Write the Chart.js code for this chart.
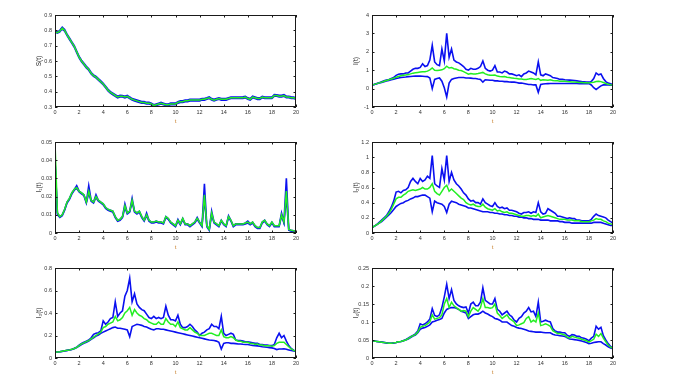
<!DOCTYPE html>
<html><head><meta charset="utf-8">
<script src="https://cdn.jsdelivr.net/npm/chart.js@4"></script>
<style>
html,body{margin:0;padding:0;background:#fff;}
#wrap{position:relative;width:675px;height:387px;overflow:hidden;background:#fff;}
canvas{position:absolute;}
</style></head><body><div id="wrap"></div>
<script>
const T = [0,0.2,0.4,0.6,0.8,1,1.2,1.4,1.6,1.8,
2,2.2,2.4,2.6,2.8,3,3.2,3.4,3.6,3.8,
4,4.2,4.4,4.6,4.8,5,5.2,5.4,5.6,5.8,
6,6.2,6.4,6.6,6.8,7,7.2,7.4,7.6,7.8,
8,8.2,8.4,8.6,8.8,9,9.2,9.4,9.6,9.8,
10,10.2,10.4,10.6,10.8,11,11.2,11.4,11.6,11.8,
12,12.2,12.4,12.6,12.8,13,13.2,13.4,13.6,13.8,
14,14.2,14.4,14.6,14.8,15,15.2,15.4,15.6,15.8,
16,16.2,16.4,16.6,16.8,17,17.2,17.4,17.6,17.8,
18,18.2,18.4,18.6,18.8,19,19.2,19.4,19.6,19.8,
20];
const X_TICKS = [0,2,4,6,8,10,12,14,16,18,20];

// S(t)
const S_mean = [0.790,0.785,0.795,0.815,0.800,0.770,0.745,0.720,0.695,0.660,
 0.625,0.600,0.580,0.560,0.545,0.520,0.505,0.495,0.480,0.465,
 0.450,0.430,0.410,0.395,0.385,0.375,0.365,0.370,0.370,0.365,
 0.370,0.360,0.350,0.345,0.340,0.335,0.330,0.330,0.325,0.325,
 0.320,0.310,0.315,0.320,0.325,0.320,0.315,0.315,0.320,0.320,
 0.320,0.330,0.335,0.335,0.340,0.340,0.345,0.345,0.345,0.345,
 0.345,0.350,0.350,0.355,0.360,0.350,0.345,0.350,0.355,0.350,
 0.350,0.350,0.355,0.360,0.360,0.360,0.360,0.360,0.360,0.365,
 0.355,0.350,0.365,0.360,0.355,0.355,0.365,0.360,0.360,0.360,
 0.360,0.375,0.375,0.370,0.370,0.375,0.365,0.365,0.360,0.360,
 0.355];
const S_upper = [0.792,0.790,0.800,0.820,0.805,0.775,0.750,0.725,0.700,0.665,
 0.630,0.605,0.585,0.565,0.550,0.525,0.510,0.500,0.485,0.470,
 0.455,0.435,0.415,0.400,0.390,0.380,0.370,0.376,0.375,0.370,
 0.376,0.365,0.355,0.350,0.345,0.340,0.335,0.335,0.330,0.330,
 0.325,0.315,0.320,0.325,0.330,0.325,0.320,0.320,0.325,0.325,
 0.325,0.335,0.340,0.340,0.345,0.345,0.350,0.350,0.350,0.350,
 0.350,0.355,0.355,0.360,0.366,0.355,0.350,0.355,0.360,0.355,
 0.355,0.355,0.360,0.365,0.365,0.365,0.365,0.365,0.366,0.370,
 0.360,0.355,0.370,0.365,0.360,0.360,0.370,0.365,0.365,0.365,
 0.365,0.381,0.380,0.376,0.376,0.380,0.370,0.370,0.366,0.365,
 0.360];
const S_lower = [0.788,0.782,0.790,0.810,0.795,0.765,0.740,0.715,0.690,0.655,
 0.620,0.595,0.575,0.555,0.540,0.515,0.500,0.490,0.475,0.460,
 0.445,0.425,0.405,0.390,0.380,0.370,0.360,0.365,0.365,0.360,
 0.365,0.355,0.345,0.340,0.335,0.330,0.325,0.325,0.320,0.320,
 0.315,0.305,0.310,0.315,0.320,0.315,0.310,0.310,0.315,0.315,
 0.315,0.325,0.330,0.330,0.335,0.335,0.340,0.340,0.340,0.340,
 0.340,0.345,0.345,0.350,0.355,0.345,0.340,0.345,0.350,0.345,
 0.345,0.345,0.350,0.355,0.355,0.355,0.355,0.355,0.355,0.360,
 0.350,0.345,0.360,0.355,0.350,0.350,0.360,0.355,0.355,0.355,
 0.355,0.370,0.370,0.365,0.365,0.370,0.360,0.360,0.355,0.355,
 0.350];

// I(t)
const I_mean = [0.20,0.23,0.27,0.31,0.35,0.40,0.44,0.48,0.52,0.56,
 0.62,0.66,0.70,0.72,0.74,0.76,0.80,0.84,0.86,0.88,
 0.90,0.92,0.92,0.95,1.02,1.12,1.00,0.98,1.00,1.02,
 1.08,1.22,1.12,1.15,1.08,1.05,1.00,0.98,0.92,0.85,
 0.78,0.82,0.80,0.80,0.82,0.85,0.88,0.80,0.75,0.72,
 0.72,0.74,0.68,0.66,0.65,0.66,0.62,0.60,0.58,0.56,
 0.55,0.52,0.52,0.50,0.50,0.52,0.55,0.52,0.50,0.55,
 0.45,0.48,0.47,0.45,0.48,0.44,0.42,0.42,0.40,0.40,
 0.40,0.38,0.37,0.36,0.36,0.35,0.33,0.33,0.32,0.32,
 0.31,0.33,0.35,0.38,0.40,0.38,0.33,0.28,0.24,0.21,
 0.20];
const I_upper = [0.20,0.23,0.28,0.32,0.37,0.42,0.46,0.50,0.55,0.60,
 0.72,0.78,0.80,0.80,0.85,0.85,0.95,1.05,1.10,1.10,
 1.15,1.35,1.20,1.25,1.55,2.35,1.45,1.30,1.25,2.15,
 1.50,3.00,1.70,2.15,1.55,1.45,1.40,1.30,1.20,1.05,
 1.00,1.10,1.05,1.05,1.10,1.20,1.50,1.10,1.00,0.95,
 1.00,1.25,0.90,0.90,0.85,0.95,0.90,0.80,0.80,0.75,
 0.70,0.75,0.65,0.80,0.85,0.95,0.90,0.85,0.75,1.45,
 0.75,0.70,0.80,0.75,0.70,0.60,0.58,0.55,0.50,0.50,
 0.48,0.47,0.46,0.45,0.44,0.42,0.40,0.38,0.37,0.36,
 0.35,0.38,0.55,0.85,0.75,0.80,0.55,0.38,0.30,0.26,
 0.24];
const I_lower = [0.20,0.22,0.26,0.30,0.33,0.37,0.41,0.44,0.48,0.51,
 0.55,0.58,0.60,0.62,0.63,0.65,0.66,0.67,0.68,0.68,
 0.68,0.67,0.66,0.65,0.58,0.00,0.50,0.55,0.58,0.40,
 0.05,-0.45,0.30,0.50,0.55,0.58,0.60,0.60,0.60,0.58,
 0.58,0.57,0.55,0.55,0.52,0.50,0.35,0.48,0.47,0.45,
 0.45,0.42,0.42,0.40,0.40,0.38,0.38,0.36,0.35,0.35,
 0.33,0.30,0.30,0.28,0.25,0.22,0.22,0.20,0.20,-0.20,
 0.22,0.25,0.26,0.27,0.28,0.28,0.28,0.28,0.28,0.28,
 0.28,0.28,0.28,0.28,0.28,0.28,0.27,0.27,0.27,0.27,
 0.27,0.20,0.05,-0.05,0.05,0.15,0.20,0.20,0.20,0.19,
 0.19];

// I1(t)
const I1_mean = [0.050,0.011,0.009,0.010,0.013,0.017,0.019,0.022,0.024,0.025,
 0.023,0.022,0.021,0.017,0.023,0.018,0.017,0.020,0.018,0.017,
 0.016,0.014,0.013,0.0125,0.012,0.009,0.007,0.0075,0.009,0.015,
 0.011,0.012,0.018,0.012,0.011,0.012,0.009,0.007,0.010,0.007,
 0.006,0.006,0.0065,0.006,0.006,0.0055,0.009,0.008,0.006,0.005,
 0.004,0.007,0.005,0.008,0.005,0.005,0.004,0.005,0.006,0.008,
 0.006,0.004,0.021,0.004,0.002,0.011,0.006,0.005,0.004,0.007,
 0.005,0.004,0.009,0.007,0.004,0.005,0.005,0.005,0.005,0.0055,
 0.006,0.005,0.006,0.004,0.003,0.003,0.006,0.007,0.005,0.004,
 0.006,0.004,0.004,0.004,0.010,0.006,0.023,0.002,0.0015,0.0012,
 0.001];
const I1_upper = [0.040,0.011,0.009,0.010,0.013,0.017,0.019,0.022,0.024,0.026,
 0.023,0.022,0.021,0.017,0.026,0.018,0.017,0.021,0.018,0.017,
 0.016,0.014,0.013,0.0125,0.012,0.009,0.007,0.0075,0.009,0.016,
 0.011,0.012,0.019,0.012,0.011,0.012,0.009,0.007,0.011,0.007,
 0.006,0.006,0.0065,0.006,0.006,0.0055,0.009,0.008,0.006,0.005,
 0.004,0.0075,0.005,0.008,0.005,0.005,0.004,0.005,0.006,0.0085,
 0.006,0.004,0.027,0.004,0.002,0.012,0.006,0.005,0.004,0.007,
 0.005,0.004,0.0095,0.007,0.004,0.005,0.005,0.005,0.005,0.0055,
 0.0065,0.005,0.006,0.004,0.003,0.003,0.006,0.007,0.005,0.004,
 0.006,0.004,0.004,0.004,0.011,0.006,0.030,0.002,0.0015,0.0012,
 0.001];
const I1_lower = [0.040,0.010,0.0085,0.0095,0.0125,0.0165,0.0185,0.0215,0.0235,0.0245,
 0.0225,0.0215,0.0205,0.0165,0.022,0.0175,0.0165,0.0195,0.0175,0.0165,
 0.0155,0.0135,0.0125,0.012,0.0115,0.0085,0.0065,0.007,0.0085,0.014,
 0.0105,0.0115,0.017,0.0115,0.0105,0.0115,0.0085,0.0065,0.0095,0.0065,
 0.0055,0.0055,0.006,0.0055,0.0055,0.005,0.0085,0.0075,0.0055,0.0045,
 0.0035,0.0065,0.0045,0.0075,0.0045,0.0045,0.0035,0.0045,0.0055,0.0075,
 0.0055,0.0035,0.019,0.0035,0.0015,0.010,0.0055,0.0045,0.0035,0.0065,
 0.0045,0.0035,0.0085,0.0065,0.0035,0.0045,0.0045,0.0045,0.0045,0.005,
 0.0055,0.0045,0.0055,0.0035,0.0025,0.0025,0.0055,0.0065,0.0045,0.0035,
 0.0055,0.0035,0.0035,0.0035,0.0095,0.0055,0.020,0.0015,0.001,0.0008,
 0.0008];

// I2(t)
const I2_mean = [0.07,0.09,0.11,0.13,0.16,0.19,0.22,0.26,0.31,0.38,
 0.45,0.47,0.47,0.50,0.52,0.55,0.56,0.57,0.56,0.57,
 0.58,0.60,0.58,0.58,0.60,0.65,0.55,0.52,0.50,0.55,
 0.60,0.63,0.55,0.58,0.55,0.52,0.49,0.46,0.44,0.40,
 0.38,0.37,0.38,0.36,0.35,0.35,0.38,0.34,0.32,0.31,
 0.30,0.32,0.29,0.30,0.28,0.27,0.28,0.26,0.26,0.25,
 0.24,0.23,0.22,0.22,0.23,0.23,0.22,0.23,0.22,0.25,
 0.20,0.21,0.22,0.23,0.22,0.21,0.20,0.19,0.18,0.18,
 0.18,0.17,0.17,0.17,0.16,0.16,0.16,0.15,0.15,0.15,
 0.15,0.16,0.17,0.19,0.18,0.18,0.16,0.15,0.13,0.12,
 0.11];
const I2_upper = [0.07,0.09,0.11,0.14,0.17,0.20,0.23,0.28,0.34,0.42,
 0.54,0.55,0.53,0.56,0.57,0.60,0.68,0.72,0.68,0.65,
 0.72,0.68,0.70,0.75,0.72,1.02,0.65,0.62,0.60,0.85,
 0.70,1.02,0.68,0.80,0.70,0.65,0.62,0.58,0.53,0.50,
 0.45,0.42,0.43,0.40,0.40,0.38,0.45,0.40,0.38,0.36,
 0.35,0.40,0.35,0.33,0.34,0.32,0.33,0.30,0.30,0.29,
 0.28,0.26,0.25,0.27,0.27,0.28,0.26,0.28,0.27,0.40,
 0.28,0.25,0.26,0.32,0.30,0.28,0.26,0.22,0.22,0.21,
 0.20,0.19,0.20,0.19,0.19,0.17,0.17,0.16,0.16,0.16,
 0.16,0.18,0.22,0.25,0.23,0.22,0.21,0.20,0.17,0.15,
 0.13];
const I2_lower = [0.07,0.09,0.11,0.13,0.15,0.18,0.21,0.24,0.27,0.31,
 0.35,0.37,0.39,0.40,0.42,0.43,0.45,0.46,0.48,0.48,
 0.49,0.50,0.50,0.48,0.46,0.28,0.42,0.40,0.39,0.38,
 0.35,0.27,0.38,0.42,0.41,0.40,0.38,0.37,0.36,0.35,
 0.33,0.33,0.32,0.31,0.30,0.29,0.28,0.28,0.28,0.27,
 0.27,0.26,0.26,0.25,0.25,0.24,0.24,0.23,0.23,0.22,
 0.22,0.21,0.21,0.20,0.20,0.19,0.19,0.18,0.18,0.18,
 0.17,0.17,0.17,0.17,0.16,0.16,0.16,0.16,0.15,0.15,
 0.14,0.14,0.14,0.13,0.13,0.13,0.13,0.13,0.13,0.13,
 0.13,0.13,0.14,0.14,0.14,0.14,0.13,0.12,0.11,0.10,
 0.10];

// I3(t)
const I3_mean = [0.050,0.053,0.056,0.060,0.064,0.068,0.072,0.077,0.085,0.095,
 0.110,0.125,0.135,0.145,0.155,0.170,0.185,0.200,0.215,0.230,
 0.270,0.280,0.300,0.310,0.320,0.370,0.330,0.340,0.360,0.400,
 0.420,0.450,0.380,0.430,0.400,0.380,0.370,0.350,0.340,0.320,
 0.310,0.300,0.300,0.320,0.300,0.300,0.350,0.320,0.300,0.300,
 0.280,0.320,0.270,0.260,0.250,0.250,0.270,0.250,0.230,0.220,
 0.200,0.200,0.200,0.210,0.220,0.220,0.210,0.200,0.200,0.250,
 0.190,0.180,0.180,0.190,0.180,0.160,0.150,0.150,0.140,0.140,
 0.140,0.130,0.130,0.120,0.125,0.115,0.115,0.110,0.110,0.110,
 0.105,0.110,0.130,0.140,0.140,0.140,0.120,0.100,0.080,0.068,
 0.060];
const I3_upper = [0.050,0.053,0.056,0.060,0.064,0.068,0.072,0.078,0.086,0.097,
 0.115,0.130,0.140,0.150,0.160,0.180,0.210,0.220,0.225,0.240,
 0.330,0.300,0.320,0.350,0.360,0.500,0.370,0.400,0.420,0.550,
 0.600,0.710,0.500,0.570,0.480,0.450,0.430,0.420,0.390,0.360,
 0.350,0.370,0.350,0.360,0.350,0.360,0.460,0.380,0.340,0.340,
 0.330,0.380,0.300,0.270,0.270,0.280,0.300,0.280,0.250,0.230,
 0.200,0.220,0.230,0.250,0.260,0.300,0.280,0.280,0.260,0.370,
 0.220,0.200,0.210,0.220,0.210,0.160,0.155,0.155,0.150,0.145,
 0.145,0.140,0.135,0.130,0.130,0.120,0.120,0.115,0.115,0.110,
 0.110,0.120,0.180,0.220,0.180,0.200,0.150,0.110,0.085,0.070,
 0.060];
const I3_lower = [0.050,0.053,0.056,0.059,0.063,0.067,0.071,0.076,0.083,0.092,
 0.105,0.120,0.130,0.140,0.150,0.165,0.180,0.195,0.205,0.220,
 0.230,0.240,0.250,0.260,0.270,0.275,0.265,0.265,0.260,0.255,
 0.250,0.190,0.280,0.290,0.300,0.295,0.290,0.280,0.275,0.265,
 0.255,0.250,0.260,0.260,0.255,0.255,0.250,0.245,0.240,0.235,
 0.230,0.225,0.220,0.215,0.210,0.205,0.200,0.195,0.190,0.185,
 0.180,0.175,0.170,0.165,0.160,0.158,0.155,0.150,0.140,0.080,
 0.130,0.135,0.135,0.130,0.130,0.128,0.125,0.125,0.122,0.120,
 0.120,0.115,0.112,0.110,0.108,0.105,0.100,0.098,0.095,0.092,
 0.090,0.085,0.075,0.080,0.080,0.082,0.078,0.072,0.066,0.062,
 0.058];

// I4(t)
const I4_mean = [0.048,0.047,0.046,0.045,0.044,0.043,0.042,0.041,0.041,0.042,
 0.043,0.045,0.046,0.048,0.050,0.054,0.058,0.062,0.065,0.072,
 0.085,0.088,0.090,0.095,0.100,0.120,0.108,0.110,0.112,0.120,
 0.150,0.165,0.140,0.155,0.145,0.140,0.135,0.130,0.132,0.130,
 0.115,0.130,0.140,0.135,0.130,0.140,0.165,0.140,0.140,0.138,
 0.140,0.150,0.125,0.118,0.110,0.115,0.120,0.110,0.105,0.100,
 0.090,0.092,0.095,0.098,0.110,0.115,0.100,0.105,0.100,0.125,
 0.090,0.092,0.095,0.092,0.088,0.076,0.072,0.068,0.068,0.066,
 0.064,0.058,0.055,0.060,0.058,0.056,0.055,0.052,0.050,0.048,
 0.044,0.048,0.052,0.066,0.060,0.068,0.055,0.045,0.036,0.030,
 0.027];
const I4_upper = [0.048,0.047,0.046,0.045,0.044,0.043,0.042,0.041,0.041,0.042,
 0.043,0.045,0.046,0.048,0.051,0.055,0.059,0.063,0.067,0.075,
 0.095,0.092,0.095,0.100,0.108,0.137,0.118,0.115,0.120,0.140,
 0.170,0.205,0.165,0.190,0.160,0.150,0.145,0.142,0.140,0.142,
 0.125,0.150,0.155,0.145,0.145,0.155,0.195,0.160,0.155,0.150,
 0.150,0.165,0.135,0.130,0.120,0.125,0.130,0.120,0.115,0.105,
 0.100,0.110,0.115,0.125,0.130,0.140,0.128,0.130,0.115,0.155,
 0.100,0.102,0.105,0.102,0.100,0.082,0.075,0.072,0.072,0.070,
 0.070,0.063,0.060,0.065,0.064,0.060,0.060,0.056,0.055,0.052,
 0.048,0.055,0.060,0.088,0.080,0.085,0.062,0.050,0.040,0.032,
 0.028];
const I4_lower = [0.048,0.047,0.046,0.045,0.044,0.043,0.042,0.041,0.041,0.042,
 0.043,0.045,0.046,0.048,0.050,0.053,0.057,0.061,0.064,0.070,
 0.080,0.083,0.085,0.088,0.092,0.100,0.102,0.105,0.107,0.110,
 0.125,0.135,0.138,0.140,0.140,0.138,0.135,0.130,0.128,0.125,
 0.110,0.115,0.120,0.122,0.122,0.125,0.130,0.125,0.122,0.118,
 0.115,0.110,0.108,0.105,0.100,0.100,0.100,0.095,0.090,0.088,
 0.085,0.083,0.082,0.080,0.078,0.075,0.074,0.073,0.072,0.072,
 0.072,0.071,0.070,0.070,0.070,0.066,0.064,0.063,0.062,0.061,
 0.060,0.056,0.053,0.052,0.051,0.050,0.049,0.047,0.045,0.043,
 0.040,0.041,0.043,0.044,0.045,0.045,0.040,0.036,0.031,0.028,
 0.026];

const Y_LABELS = ['S(t)','I(t)','I\u2081(t)','I\u2082(t)','I\u2083(t)','I\u2084(t)'];
const Y_RANGES = [[0.3,0.9,0.1],[-1,4,1],[0,0.05,0.01],[0,1.2,0.2],[0,0.8,0.2],[0,0.25,0.05]];
const SERIES = [
  [S_mean,S_upper,S_lower],
  [I_mean,I_upper,I_lower],
  [I1_mean,I1_upper,I1_lower],
  [I2_mean,I2_upper,I2_lower],
  [I3_mean,I3_upper,I3_lower],
  [I4_mean,I4_upper,I4_lower]
];
// plot-area placement (layout)
const AREAS = [
  [55,15,241,92],[372,15,241,92],
  [55,142,241,91],[372,142,241,91],
  [55,268,241,90],[372,268,241,90]
];
const PADL = 40, PADT = 8, PADR = 12, PADB = 26;
const FONT = "'Liberation Sans', Arial, sans-serif";

const boxTicks = {
  id: 'boxTicks',
  afterDatasetsDraw(chart) {
    const {ctx, chartArea: a, scales: {x, y}} = chart;
    ctx.save();
    ctx.strokeStyle = '#1a1a1a';
    ctx.lineWidth = 1;
    ctx.strokeRect(Math.round(a.left) + 0.5, Math.round(a.top) + 0.5,
                   Math.round(a.right - a.left) - 1, Math.round(a.bottom - a.top) - 1);
    const L = 2.5;
    ctx.beginPath();
    x.ticks.forEach(t => {
      const px = Math.round(x.getPixelForValue(t.value)) + 0.5;
      ctx.moveTo(px, a.bottom); ctx.lineTo(px, a.bottom - L);
      ctx.moveTo(px, a.top); ctx.lineTo(px, a.top + L);
    });
    y.ticks.forEach(t => {
      const py = Math.round(y.getPixelForValue(t.value)) + 0.5;
      ctx.moveTo(a.left, py); ctx.lineTo(a.left + L, py);
      ctx.moveTo(a.right, py); ctx.lineTo(a.right - L, py);
    });
    ctx.stroke();
    ctx.restore();
  }
};

const fmt = v => String(+Number(v).toFixed(4));
const wrap = document.getElementById('wrap');

SERIES.forEach((ser, k) => {
  const [al, at, aw, ah] = AREAS[k];
  const cv = document.createElement('canvas');
  const W = PADL + aw + PADR, H = PADT + ah + PADB;
  cv.width = W; cv.height = H;
  cv.style.left = (al - PADL) + 'px';
  cv.style.top = (at - PADT) + 'px';
  cv.style.width = W + 'px'; cv.style.height = H + 'px';
  wrap.appendChild(cv);
  const pts = arr => T.map((t, i) => ({x: t, y: arr[i]}));
  const [mean, upper, lower] = ser;
  const [ymin, ymax, ystep] = Y_RANGES[k];
  new Chart(cv, {
    type: 'line',
    data: {
      datasets: [
        {data: pts(mean), borderColor: '#22ee22', borderWidth: 1.5},
        {data: pts(upper), borderColor: '#0a10f0', borderWidth: 1.6},
        {data: pts(lower), borderColor: '#0a10f0', borderWidth: 1.6}
      ]
    },
    options: {
      responsive: false,
      animation: false,
      devicePixelRatio: 1,
      elements: {point: {radius: 0}, line: {tension: 0}},
      layout: {padding: {top: PADT, right: PADR, left: 0, bottom: 0}},
      plugins: {legend: {display: false}, tooltip: {enabled: false}},
      scales: {
        x: {
          type: 'linear', min: 0, max: 20,
          afterBuildTicks: s => { s.ticks = X_TICKS.map(v => ({value: v})); },
          afterFit: s => { s.height = PADB; },
          grid: {display: false, drawTicks: false, tickLength: 0},
          border: {display: false},
          ticks: {font: {family: FONT, size: 5.5}, color: '#333', padding: 2.5,
                  maxRotation: 0, autoSkip: false, callback: fmt},
          title: {display: true, text: 't', color: '#c8822e',
                  font: {family: FONT, size: 6}, padding: {top: 0, bottom: 8}}
        },
        y: {
          type: 'linear', min: ymin, max: ymax,
          ticks: {stepSize: ystep, font: {family: FONT, size: 5.5}, color: '#333',
                  padding: 3, autoSkip: false, callback: fmt},
          afterFit: s => { s.width = PADL; },
          grid: {display: false, drawTicks: false, tickLength: 0},
          border: {display: false},
          title: {display: true, text: Y_LABELS[k], color: '#222',
                  font: {family: FONT, size: 6.5}, padding: {top: 20, bottom: 0}}
        }
      }
    },
    plugins: [boxTicks]
  });
});
</script></body></html>
